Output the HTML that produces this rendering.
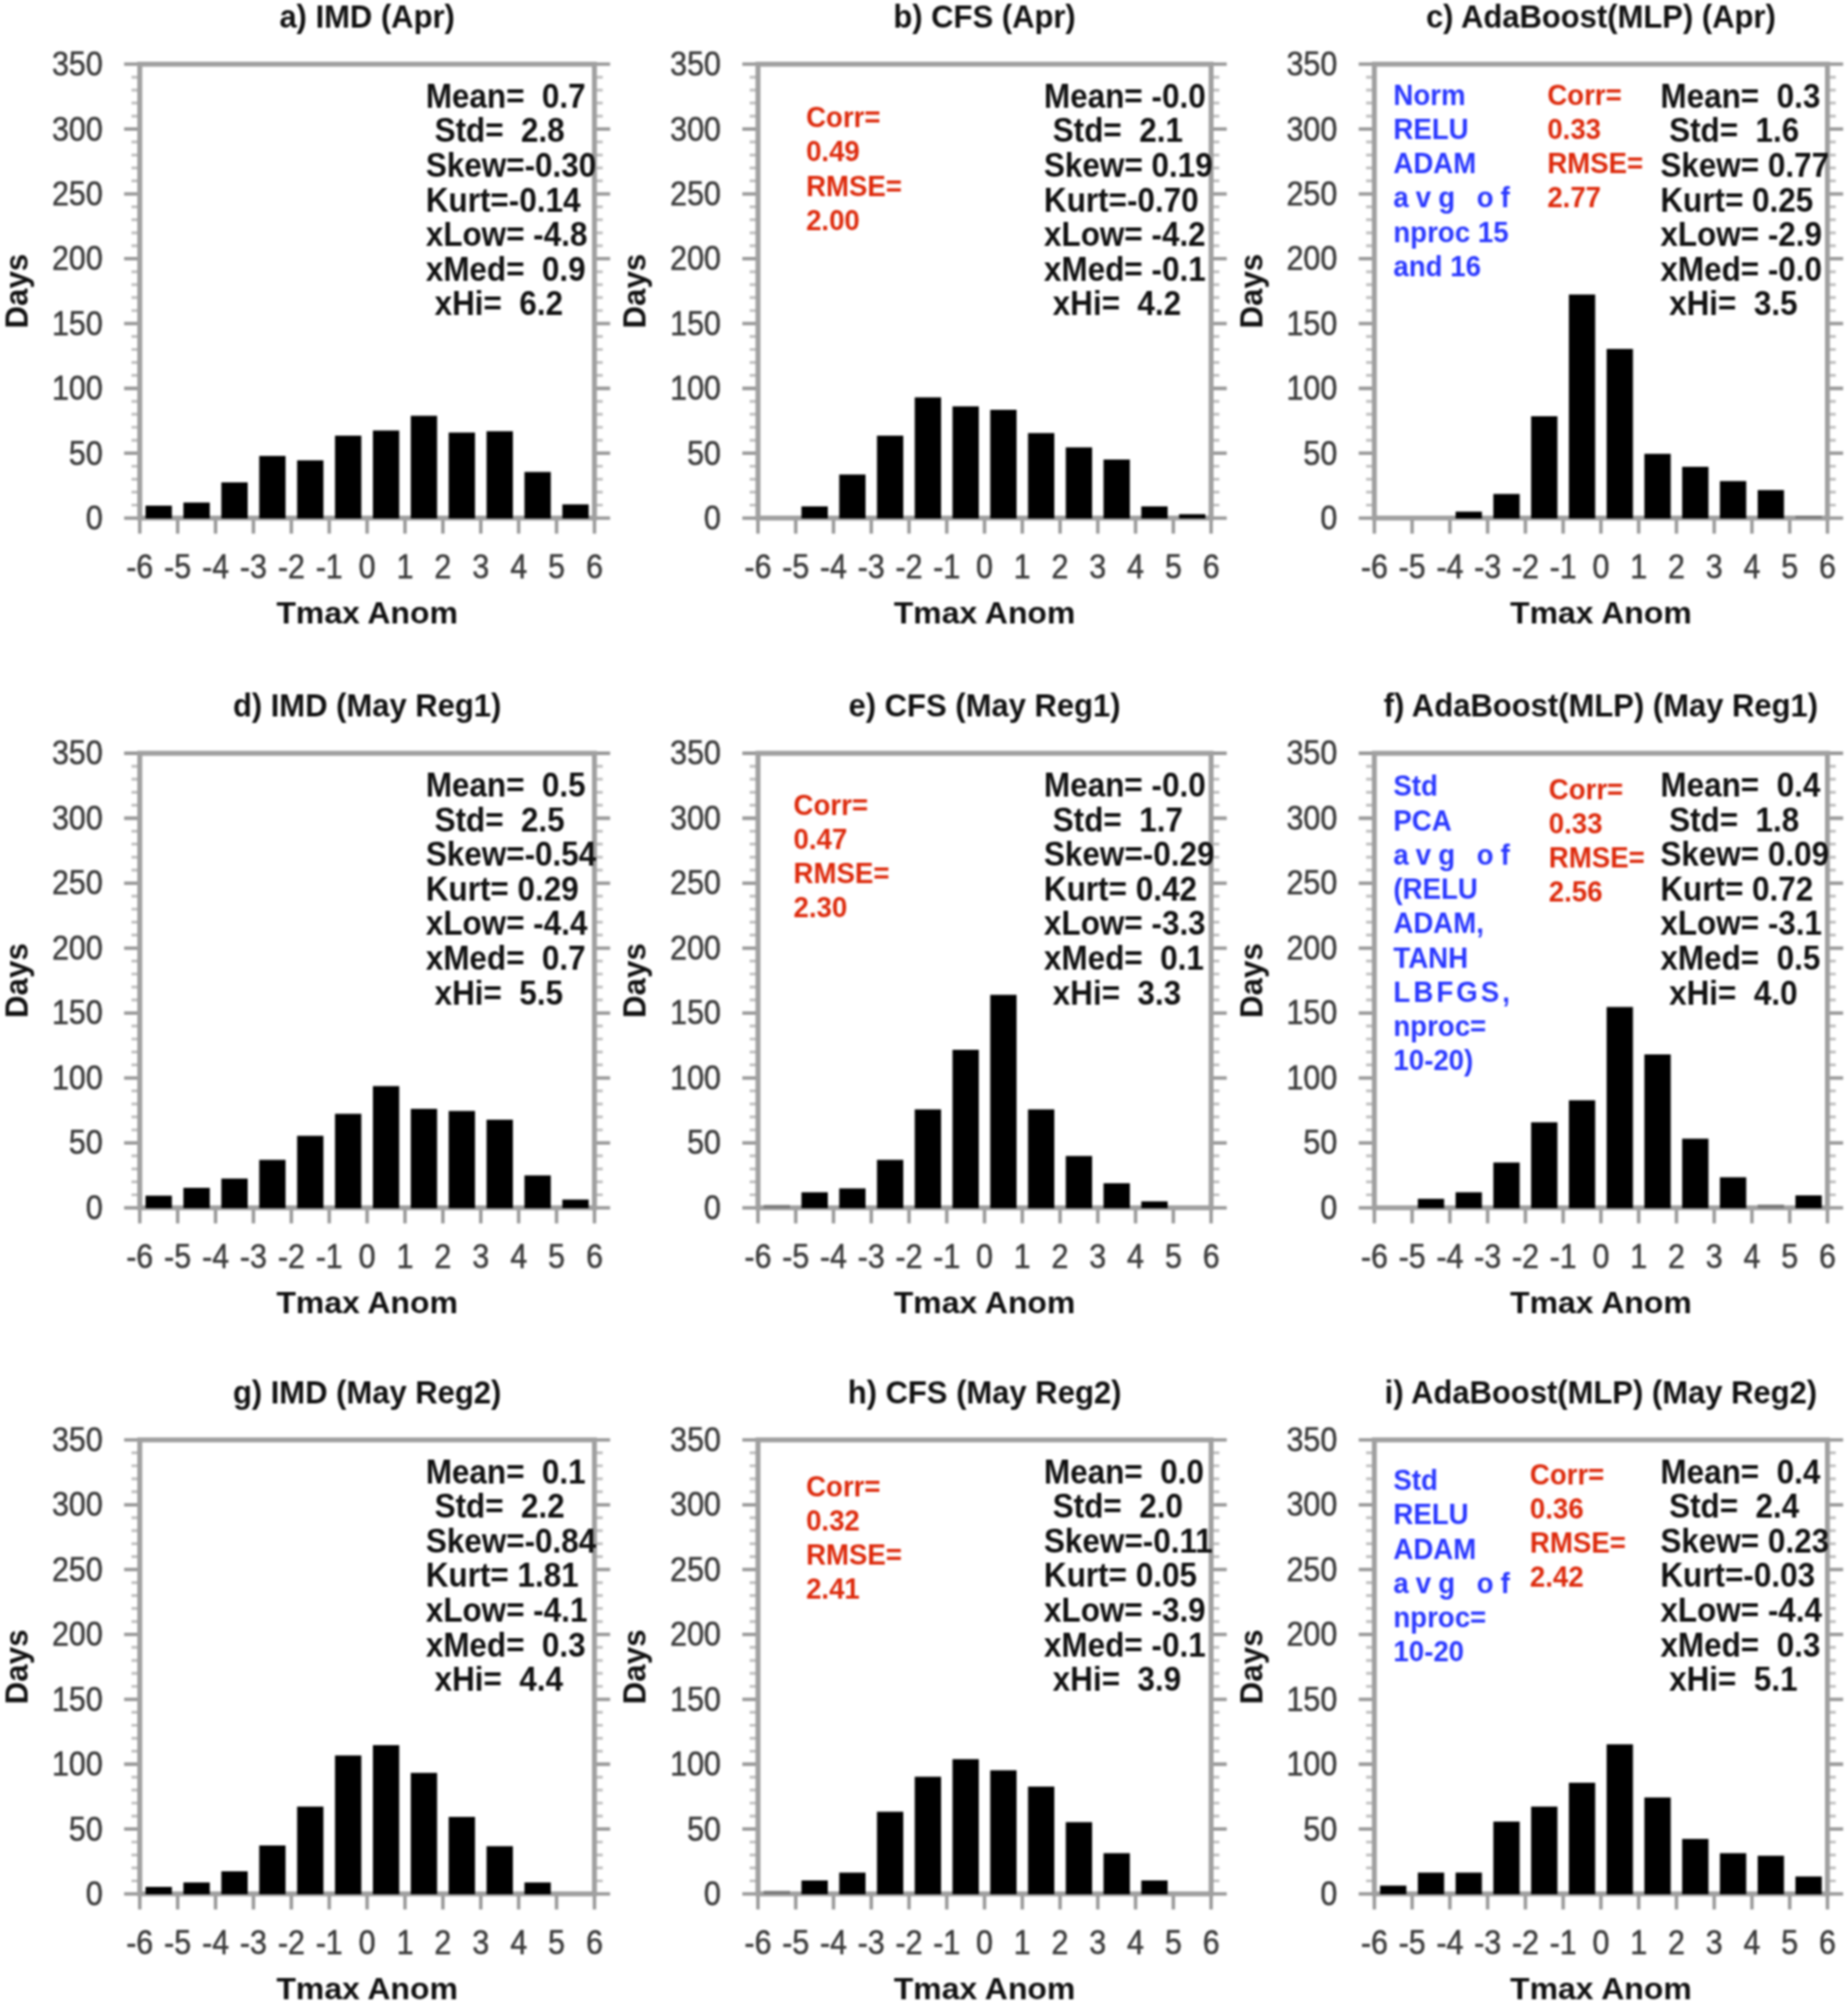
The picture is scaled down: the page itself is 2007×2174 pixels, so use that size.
<!DOCTYPE html>
<html lang="en">
<head>
<meta charset="utf-8">
<title>Tmax anomaly histograms</title>
<style>
html,body{margin:0;padding:0;background:#fff;}
body{width:2007px;height:2174px;overflow:hidden;}
svg{display:block;filter:blur(1.05px);}
text{font-family:"Liberation Sans",Arial,Helvetica,sans-serif;white-space:pre;}
.tk text{font-size:34px;fill:#3a3a3a;stroke:#444;stroke-width:0.55px;}
.b{font-size:34px;font-weight:bold;fill:#111;}
.st text{font-size:33.5px;font-weight:bold;fill:#111;}
.nt text{font-size:30px;font-weight:bold;}
</style>
</head>
<body>
<svg width="2007" height="2174" viewBox="0 0 2007 2174">
<rect width="2007" height="2174" fill="#fff"/>

<g>
<path d="M142.8 548.52h9M645.6 548.52h9M142.8 534.43h9M645.6 534.43h9M142.8 520.35h9M645.6 520.35h9M142.8 506.27h9M645.6 506.27h9M142.8 478.1h9M645.6 478.1h9M142.8 464.02h9M645.6 464.02h9M142.8 449.94h9M645.6 449.94h9M142.8 435.85h9M645.6 435.85h9M142.8 407.69h9M645.6 407.69h9M142.8 393.61h9M645.6 393.61h9M142.8 379.52h9M645.6 379.52h9M142.8 365.44h9M645.6 365.44h9M142.8 337.27h9M645.6 337.27h9M142.8 323.19h9M645.6 323.19h9M142.8 309.11h9M645.6 309.11h9M142.8 295.03h9M645.6 295.03h9M142.8 266.86h9M645.6 266.86h9M142.8 252.78h9M645.6 252.78h9M142.8 238.69h9M645.6 238.69h9M142.8 224.61h9M645.6 224.61h9M142.8 196.45h9M645.6 196.45h9M142.8 182.36h9M645.6 182.36h9M142.8 168.28h9M645.6 168.28h9M142.8 154.2h9M645.6 154.2h9M142.8 126.03h9M645.6 126.03h9M142.8 111.95h9M645.6 111.95h9M142.8 97.87h9M645.6 97.87h9M142.8 83.78h9M645.6 83.78h9" stroke="#c2c2c2" stroke-width="3.2" fill="none"/>
<path d="M134.8 562.6h17M645.6 562.6h17M134.8 492.19h17M645.6 492.19h17M134.8 421.77h17M645.6 421.77h17M134.8 351.36h17M645.6 351.36h17M134.8 280.94h17M645.6 280.94h17M134.8 210.53h17M645.6 210.53h17M134.8 140.11h17M645.6 140.11h17M134.8 69.7h17M645.6 69.7h17M151.8 562.6v17M192.95 562.6v17M234.1 562.6v17M275.25 562.6v17M316.4 562.6v17M357.55 562.6v17M398.7 562.6v17M439.85 562.6v17M481 562.6v17M522.15 562.6v17M563.3 562.6v17M604.45 562.6v17M645.6 562.6v17" stroke="#9a9a9a" stroke-width="3.8" fill="none"/>
<rect x="151.8" y="69.7" width="493.8" height="492.9" fill="none" stroke="#a0a0a0" stroke-width="5.4"/>
<g fill="#000"><rect x="158.07" y="549.1" width="28.6" height="13.9"/><rect x="199.22" y="545.7" width="28.6" height="17.3"/><rect x="240.38" y="523.8" width="28.6" height="39.2"/><rect x="281.53" y="495.1" width="28.6" height="67.9"/><rect x="322.68" y="499.9" width="28.6" height="63.1"/><rect x="363.82" y="473.1" width="28.6" height="89.9"/><rect x="404.98" y="467.5" width="28.6" height="95.5"/><rect x="446.12" y="451.5" width="28.6" height="111.5"/><rect x="487.28" y="469.7" width="28.6" height="93.3"/><rect x="528.43" y="468.3" width="28.6" height="94.7"/><rect x="569.58" y="512.5" width="28.6" height="50.5"/><rect x="610.73" y="547.7" width="28.6" height="15.3"/></g>
<g class="tk" text-anchor="end"><text transform="translate(111.5 575) scale(0.97 1.1)">0</text><text transform="translate(111.5 504.59) scale(0.97 1.1)">50</text><text transform="translate(111.5 434.17) scale(0.97 1.1)">100</text><text transform="translate(111.5 363.76) scale(0.97 1.1)">150</text><text transform="translate(111.5 293.34) scale(0.97 1.1)">200</text><text transform="translate(111.5 222.93) scale(0.97 1.1)">250</text><text transform="translate(111.5 152.51) scale(0.97 1.1)">300</text><text transform="translate(111.5 82.1) scale(0.97 1.1)">350</text></g>
<g class="tk" text-anchor="middle"><text transform="translate(151.8 627.8) scale(0.97 1.1)">-6</text><text transform="translate(192.95 627.8) scale(0.97 1.1)">-5</text><text transform="translate(234.1 627.8) scale(0.97 1.1)">-4</text><text transform="translate(275.25 627.8) scale(0.97 1.1)">-3</text><text transform="translate(316.4 627.8) scale(0.97 1.1)">-2</text><text transform="translate(357.55 627.8) scale(0.97 1.1)">-1</text><text transform="translate(398.7 627.8) scale(0.97 1.1)">0</text><text transform="translate(439.85 627.8) scale(0.97 1.1)">1</text><text transform="translate(481 627.8) scale(0.97 1.1)">2</text><text transform="translate(522.15 627.8) scale(0.97 1.1)">3</text><text transform="translate(563.3 627.8) scale(0.97 1.1)">4</text><text transform="translate(604.45 627.8) scale(0.97 1.1)">5</text><text transform="translate(645.6 627.8) scale(0.97 1.1)">6</text></g>
<text transform="translate(398.7 29.8) scale(0.99 1.02)" class="b" text-anchor="middle">a) IMD (Apr)</text>
<text transform="translate(398.7 677.3) scale(1.02 1)" class="b" text-anchor="middle">Tmax Anom</text>
<text class="b" text-anchor="middle" transform="translate(29.9 316.15) rotate(-90) scale(1 1.05)">Days</text>
<g class="st"><text transform="translate(462.4 116.7) scale(1.02 1.1)">Mean=  0.7</text><text transform="translate(462.4 154.3) scale(1.02 1.1)"> Std=  2.8</text><text transform="translate(462.4 191.9) scale(1.02 1.1)">Skew=-0.30</text><text transform="translate(462.4 229.5) scale(1.02 1.1)">Kurt=-0.14</text><text transform="translate(462.4 267.1) scale(1.02 1.1)">xLow= -4.8</text><text transform="translate(462.4 304.7) scale(1.02 1.1)">xMed=  0.9</text><text transform="translate(462.4 342.3) scale(1.02 1.1)"> xHi=  6.2</text></g>
</g>
<g>
<path d="M814.2 548.52h9M1315.3 548.52h9M814.2 534.43h9M1315.3 534.43h9M814.2 520.35h9M1315.3 520.35h9M814.2 506.27h9M1315.3 506.27h9M814.2 478.1h9M1315.3 478.1h9M814.2 464.02h9M1315.3 464.02h9M814.2 449.94h9M1315.3 449.94h9M814.2 435.85h9M1315.3 435.85h9M814.2 407.69h9M1315.3 407.69h9M814.2 393.61h9M1315.3 393.61h9M814.2 379.52h9M1315.3 379.52h9M814.2 365.44h9M1315.3 365.44h9M814.2 337.27h9M1315.3 337.27h9M814.2 323.19h9M1315.3 323.19h9M814.2 309.11h9M1315.3 309.11h9M814.2 295.03h9M1315.3 295.03h9M814.2 266.86h9M1315.3 266.86h9M814.2 252.78h9M1315.3 252.78h9M814.2 238.69h9M1315.3 238.69h9M814.2 224.61h9M1315.3 224.61h9M814.2 196.45h9M1315.3 196.45h9M814.2 182.36h9M1315.3 182.36h9M814.2 168.28h9M1315.3 168.28h9M814.2 154.2h9M1315.3 154.2h9M814.2 126.03h9M1315.3 126.03h9M814.2 111.95h9M1315.3 111.95h9M814.2 97.87h9M1315.3 97.87h9M814.2 83.78h9M1315.3 83.78h9" stroke="#c2c2c2" stroke-width="3.2" fill="none"/>
<path d="M806.2 562.6h17M1315.3 562.6h17M806.2 492.19h17M1315.3 492.19h17M806.2 421.77h17M1315.3 421.77h17M806.2 351.36h17M1315.3 351.36h17M806.2 280.94h17M1315.3 280.94h17M806.2 210.53h17M1315.3 210.53h17M806.2 140.11h17M1315.3 140.11h17M806.2 69.7h17M1315.3 69.7h17M823.2 562.6v17M864.21 562.6v17M905.22 562.6v17M946.23 562.6v17M987.23 562.6v17M1028.24 562.6v17M1069.25 562.6v17M1110.26 562.6v17M1151.27 562.6v17M1192.28 562.6v17M1233.28 562.6v17M1274.29 562.6v17M1315.3 562.6v17" stroke="#9a9a9a" stroke-width="3.8" fill="none"/>
<rect x="823.2" y="69.7" width="492.1" height="492.9" fill="none" stroke="#a0a0a0" stroke-width="5.4"/>
<g fill="#000"><rect x="870.41" y="549.9" width="28.6" height="13.1"/><rect x="911.42" y="515.3" width="28.6" height="47.7"/><rect x="952.43" y="473.1" width="28.6" height="89.9"/><rect x="993.44" y="431.5" width="28.6" height="131.5"/><rect x="1034.45" y="441.3" width="28.6" height="121.7"/><rect x="1075.45" y="445" width="28.6" height="118"/><rect x="1116.46" y="470.3" width="28.6" height="92.7"/><rect x="1157.47" y="485.8" width="28.6" height="77.2"/><rect x="1198.48" y="499" width="28.6" height="64"/><rect x="1239.49" y="549.9" width="28.6" height="13.1"/><rect x="1280.5" y="558.4" width="28.6" height="4.6"/></g>
<g class="tk" text-anchor="end"><text transform="translate(782.9 575) scale(0.97 1.1)">0</text><text transform="translate(782.9 504.59) scale(0.97 1.1)">50</text><text transform="translate(782.9 434.17) scale(0.97 1.1)">100</text><text transform="translate(782.9 363.76) scale(0.97 1.1)">150</text><text transform="translate(782.9 293.34) scale(0.97 1.1)">200</text><text transform="translate(782.9 222.93) scale(0.97 1.1)">250</text><text transform="translate(782.9 152.51) scale(0.97 1.1)">300</text><text transform="translate(782.9 82.1) scale(0.97 1.1)">350</text></g>
<g class="tk" text-anchor="middle"><text transform="translate(823.2 627.8) scale(0.97 1.1)">-6</text><text transform="translate(864.21 627.8) scale(0.97 1.1)">-5</text><text transform="translate(905.22 627.8) scale(0.97 1.1)">-4</text><text transform="translate(946.23 627.8) scale(0.97 1.1)">-3</text><text transform="translate(987.23 627.8) scale(0.97 1.1)">-2</text><text transform="translate(1028.24 627.8) scale(0.97 1.1)">-1</text><text transform="translate(1069.25 627.8) scale(0.97 1.1)">0</text><text transform="translate(1110.26 627.8) scale(0.97 1.1)">1</text><text transform="translate(1151.27 627.8) scale(0.97 1.1)">2</text><text transform="translate(1192.28 627.8) scale(0.97 1.1)">3</text><text transform="translate(1233.28 627.8) scale(0.97 1.1)">4</text><text transform="translate(1274.29 627.8) scale(0.97 1.1)">5</text><text transform="translate(1315.3 627.8) scale(0.97 1.1)">6</text></g>
<text transform="translate(1069.25 29.8) scale(0.99 1.02)" class="b" text-anchor="middle">b) CFS (Apr)</text>
<text transform="translate(1069.25 677.3) scale(1.02 1)" class="b" text-anchor="middle">Tmax Anom</text>
<text class="b" text-anchor="middle" transform="translate(701.3 316.15) rotate(-90) scale(1 1.05)">Days</text>
<g class="st"><text transform="translate(1133.8 116.7) scale(1.02 1.1)">Mean= -0.0</text><text transform="translate(1133.8 154.3) scale(1.02 1.1)"> Std=  2.1</text><text transform="translate(1133.8 191.9) scale(1.02 1.1)">Skew= 0.19</text><text transform="translate(1133.8 229.5) scale(1.02 1.1)">Kurt=-0.70</text><text transform="translate(1133.8 267.1) scale(1.02 1.1)">xLow= -4.2</text><text transform="translate(1133.8 304.7) scale(1.02 1.1)">xMed= -0.1</text><text transform="translate(1133.8 342.3) scale(1.02 1.1)"> xHi=  4.2</text></g>
<g class="nt" fill="#dd2a0c"><text transform="translate(875.4 138) scale(1 1.06)">Corr=</text><text transform="translate(875.4 175.25) scale(1 1.06)">0.49</text><text transform="translate(875.4 212.5) scale(1 1.06)">RMSE=</text><text transform="translate(875.4 249.75) scale(1 1.06)">2.00</text></g>
</g>
<g>
<path d="M1483.6 548.52h9M1984.7 548.52h9M1483.6 534.43h9M1984.7 534.43h9M1483.6 520.35h9M1984.7 520.35h9M1483.6 506.27h9M1984.7 506.27h9M1483.6 478.1h9M1984.7 478.1h9M1483.6 464.02h9M1984.7 464.02h9M1483.6 449.94h9M1984.7 449.94h9M1483.6 435.85h9M1984.7 435.85h9M1483.6 407.69h9M1984.7 407.69h9M1483.6 393.61h9M1984.7 393.61h9M1483.6 379.52h9M1984.7 379.52h9M1483.6 365.44h9M1984.7 365.44h9M1483.6 337.27h9M1984.7 337.27h9M1483.6 323.19h9M1984.7 323.19h9M1483.6 309.11h9M1984.7 309.11h9M1483.6 295.03h9M1984.7 295.03h9M1483.6 266.86h9M1984.7 266.86h9M1483.6 252.78h9M1984.7 252.78h9M1483.6 238.69h9M1984.7 238.69h9M1483.6 224.61h9M1984.7 224.61h9M1483.6 196.45h9M1984.7 196.45h9M1483.6 182.36h9M1984.7 182.36h9M1483.6 168.28h9M1984.7 168.28h9M1483.6 154.2h9M1984.7 154.2h9M1483.6 126.03h9M1984.7 126.03h9M1483.6 111.95h9M1984.7 111.95h9M1483.6 97.87h9M1984.7 97.87h9M1483.6 83.78h9M1984.7 83.78h9" stroke="#c2c2c2" stroke-width="3.2" fill="none"/>
<path d="M1475.6 562.6h17M1984.7 562.6h17M1475.6 492.19h17M1984.7 492.19h17M1475.6 421.77h17M1984.7 421.77h17M1475.6 351.36h17M1984.7 351.36h17M1475.6 280.94h17M1984.7 280.94h17M1475.6 210.53h17M1984.7 210.53h17M1475.6 140.11h17M1984.7 140.11h17M1475.6 69.7h17M1984.7 69.7h17M1492.6 562.6v17M1533.61 562.6v17M1574.62 562.6v17M1615.62 562.6v17M1656.63 562.6v17M1697.64 562.6v17M1738.65 562.6v17M1779.66 562.6v17M1820.67 562.6v17M1861.67 562.6v17M1902.68 562.6v17M1943.69 562.6v17M1984.7 562.6v17" stroke="#9a9a9a" stroke-width="3.8" fill="none"/>
<rect x="1492.6" y="69.7" width="492.1" height="492.9" fill="none" stroke="#a0a0a0" stroke-width="5.4"/>
<g fill="#000"><rect x="1580.82" y="555.6" width="28.6" height="7.4"/><rect x="1621.83" y="536.4" width="28.6" height="26.6"/><rect x="1662.84" y="452" width="28.6" height="111"/><rect x="1703.85" y="319.8" width="28.6" height="243.2"/><rect x="1744.85" y="378.9" width="28.6" height="184.1"/><rect x="1785.86" y="492.8" width="28.6" height="70.2"/><rect x="1826.87" y="506.9" width="28.6" height="56.1"/><rect x="1867.88" y="522.4" width="28.6" height="40.6"/><rect x="1908.89" y="532.2" width="28.6" height="30.8"/><rect x="1949.9" y="560" width="28.6" height="3" fill="#777"/></g>
<g class="tk" text-anchor="end"><text transform="translate(1452.3 575) scale(0.97 1.1)">0</text><text transform="translate(1452.3 504.59) scale(0.97 1.1)">50</text><text transform="translate(1452.3 434.17) scale(0.97 1.1)">100</text><text transform="translate(1452.3 363.76) scale(0.97 1.1)">150</text><text transform="translate(1452.3 293.34) scale(0.97 1.1)">200</text><text transform="translate(1452.3 222.93) scale(0.97 1.1)">250</text><text transform="translate(1452.3 152.51) scale(0.97 1.1)">300</text><text transform="translate(1452.3 82.1) scale(0.97 1.1)">350</text></g>
<g class="tk" text-anchor="middle"><text transform="translate(1492.6 627.8) scale(0.97 1.1)">-6</text><text transform="translate(1533.61 627.8) scale(0.97 1.1)">-5</text><text transform="translate(1574.62 627.8) scale(0.97 1.1)">-4</text><text transform="translate(1615.62 627.8) scale(0.97 1.1)">-3</text><text transform="translate(1656.63 627.8) scale(0.97 1.1)">-2</text><text transform="translate(1697.64 627.8) scale(0.97 1.1)">-1</text><text transform="translate(1738.65 627.8) scale(0.97 1.1)">0</text><text transform="translate(1779.66 627.8) scale(0.97 1.1)">1</text><text transform="translate(1820.67 627.8) scale(0.97 1.1)">2</text><text transform="translate(1861.67 627.8) scale(0.97 1.1)">3</text><text transform="translate(1902.68 627.8) scale(0.97 1.1)">4</text><text transform="translate(1943.69 627.8) scale(0.97 1.1)">5</text><text transform="translate(1984.7 627.8) scale(0.97 1.1)">6</text></g>
<text transform="translate(1738.65 29.8) scale(0.99 1.02)" class="b" text-anchor="middle">c) AdaBoost(MLP) (Apr)</text>
<text transform="translate(1738.65 677.3) scale(1.02 1)" class="b" text-anchor="middle">Tmax Anom</text>
<text class="b" text-anchor="middle" transform="translate(1370.7 316.15) rotate(-90) scale(1 1.05)">Days</text>
<g class="st"><text transform="translate(1803.2 116.7) scale(1.02 1.1)">Mean=  0.3</text><text transform="translate(1803.2 154.3) scale(1.02 1.1)"> Std=  1.6</text><text transform="translate(1803.2 191.9) scale(1.02 1.1)">Skew= 0.77</text><text transform="translate(1803.2 229.5) scale(1.02 1.1)">Kurt= 0.25</text><text transform="translate(1803.2 267.1) scale(1.02 1.1)">xLow= -2.9</text><text transform="translate(1803.2 304.7) scale(1.02 1.1)">xMed= -0.0</text><text transform="translate(1803.2 342.3) scale(1.02 1.1)"> xHi=  3.5</text></g>
<g class="nt" fill="#dd2a0c"><text transform="translate(1680.4 113.6) scale(1 1.06)">Corr=</text><text transform="translate(1680.4 150.85) scale(1 1.06)">0.33</text><text transform="translate(1680.4 188.1) scale(1 1.06)">RMSE=</text><text transform="translate(1680.4 225.35) scale(1 1.06)">2.77</text></g>
<g class="nt" fill="#2a38ff"><text transform="translate(1513.3 113.6) scale(1 1.06)">Norm</text><text transform="translate(1513.3 150.85) scale(1 1.06)">RELU</text><text transform="translate(1513.3 188.1) scale(1 1.06)">ADAM</text><text transform="translate(1513.3 225.35) scale(1 1.06)" textLength="126.5" lengthAdjust="spacing">avg of</text><text transform="translate(1513.3 262.6) scale(1 1.06)">nproc 15</text><text transform="translate(1513.3 299.85) scale(1 1.06)">and 16</text></g>
</g>
<g>
<path d="M142.8 1297.5h9M645.6 1297.5h9M142.8 1283.39h9M645.6 1283.39h9M142.8 1269.29h9M645.6 1269.29h9M142.8 1255.19h9M645.6 1255.19h9M142.8 1226.98h9M645.6 1226.98h9M142.8 1212.88h9M645.6 1212.88h9M142.8 1198.78h9M645.6 1198.78h9M142.8 1184.67h9M645.6 1184.67h9M142.8 1156.47h9M645.6 1156.47h9M142.8 1142.37h9M645.6 1142.37h9M142.8 1128.26h9M645.6 1128.26h9M142.8 1114.16h9M645.6 1114.16h9M142.8 1085.95h9M645.6 1085.95h9M142.8 1071.85h9M645.6 1071.85h9M142.8 1057.75h9M645.6 1057.75h9M142.8 1043.65h9M645.6 1043.65h9M142.8 1015.44h9M645.6 1015.44h9M142.8 1001.34h9M645.6 1001.34h9M142.8 987.23h9M645.6 987.23h9M142.8 973.13h9M645.6 973.13h9M142.8 944.93h9M645.6 944.93h9M142.8 930.82h9M645.6 930.82h9M142.8 916.72h9M645.6 916.72h9M142.8 902.62h9M645.6 902.62h9M142.8 874.41h9M645.6 874.41h9M142.8 860.31h9M645.6 860.31h9M142.8 846.21h9M645.6 846.21h9M142.8 832.1h9M645.6 832.1h9" stroke="#c2c2c2" stroke-width="3.2" fill="none"/>
<path d="M134.8 1311.6h17M645.6 1311.6h17M134.8 1241.09h17M645.6 1241.09h17M134.8 1170.57h17M645.6 1170.57h17M134.8 1100.06h17M645.6 1100.06h17M134.8 1029.54h17M645.6 1029.54h17M134.8 959.03h17M645.6 959.03h17M134.8 888.51h17M645.6 888.51h17M134.8 818h17M645.6 818h17M151.8 1311.6v17M192.95 1311.6v17M234.1 1311.6v17M275.25 1311.6v17M316.4 1311.6v17M357.55 1311.6v17M398.7 1311.6v17M439.85 1311.6v17M481 1311.6v17M522.15 1311.6v17M563.3 1311.6v17M604.45 1311.6v17M645.6 1311.6v17" stroke="#9a9a9a" stroke-width="3.8" fill="none"/>
<rect x="151.8" y="818" width="493.8" height="493.6" fill="none" stroke="#a0a0a0" stroke-width="5.4"/>
<g fill="#000"><rect x="158.07" y="1298.4" width="28.6" height="13.6"/><rect x="199.22" y="1289.9" width="28.6" height="22.1"/><rect x="240.38" y="1279.8" width="28.6" height="32.2"/><rect x="281.53" y="1259.5" width="28.6" height="52.5"/><rect x="322.68" y="1233.4" width="28.6" height="78.6"/><rect x="363.82" y="1209.5" width="28.6" height="102.5"/><rect x="404.98" y="1179.4" width="28.6" height="132.6"/><rect x="446.12" y="1204.1" width="28.6" height="107.9"/><rect x="487.28" y="1206.4" width="28.6" height="105.6"/><rect x="528.43" y="1215.9" width="28.6" height="96.1"/><rect x="569.58" y="1276.4" width="28.6" height="35.6"/><rect x="610.73" y="1302.6" width="28.6" height="9.4"/></g>
<g class="tk" text-anchor="end"><text transform="translate(111.5 1324) scale(0.97 1.1)">0</text><text transform="translate(111.5 1253.49) scale(0.97 1.1)">50</text><text transform="translate(111.5 1182.97) scale(0.97 1.1)">100</text><text transform="translate(111.5 1112.46) scale(0.97 1.1)">150</text><text transform="translate(111.5 1041.94) scale(0.97 1.1)">200</text><text transform="translate(111.5 971.43) scale(0.97 1.1)">250</text><text transform="translate(111.5 900.91) scale(0.97 1.1)">300</text><text transform="translate(111.5 830.4) scale(0.97 1.1)">350</text></g>
<g class="tk" text-anchor="middle"><text transform="translate(151.8 1376.8) scale(0.97 1.1)">-6</text><text transform="translate(192.95 1376.8) scale(0.97 1.1)">-5</text><text transform="translate(234.1 1376.8) scale(0.97 1.1)">-4</text><text transform="translate(275.25 1376.8) scale(0.97 1.1)">-3</text><text transform="translate(316.4 1376.8) scale(0.97 1.1)">-2</text><text transform="translate(357.55 1376.8) scale(0.97 1.1)">-1</text><text transform="translate(398.7 1376.8) scale(0.97 1.1)">0</text><text transform="translate(439.85 1376.8) scale(0.97 1.1)">1</text><text transform="translate(481 1376.8) scale(0.97 1.1)">2</text><text transform="translate(522.15 1376.8) scale(0.97 1.1)">3</text><text transform="translate(563.3 1376.8) scale(0.97 1.1)">4</text><text transform="translate(604.45 1376.8) scale(0.97 1.1)">5</text><text transform="translate(645.6 1376.8) scale(0.97 1.1)">6</text></g>
<text transform="translate(398.7 778.1) scale(0.99 1.02)" class="b" text-anchor="middle">d) IMD (May Reg1)</text>
<text transform="translate(398.7 1426.3) scale(1.02 1)" class="b" text-anchor="middle">Tmax Anom</text>
<text class="b" text-anchor="middle" transform="translate(29.9 1064.8) rotate(-90) scale(1 1.05)">Days</text>
<g class="st"><text transform="translate(462.4 865) scale(1.02 1.1)">Mean=  0.5</text><text transform="translate(462.4 902.6) scale(1.02 1.1)"> Std=  2.5</text><text transform="translate(462.4 940.2) scale(1.02 1.1)">Skew=-0.54</text><text transform="translate(462.4 977.8) scale(1.02 1.1)">Kurt= 0.29</text><text transform="translate(462.4 1015.4) scale(1.02 1.1)">xLow= -4.4</text><text transform="translate(462.4 1053) scale(1.02 1.1)">xMed=  0.7</text><text transform="translate(462.4 1090.6) scale(1.02 1.1)"> xHi=  5.5</text></g>
</g>
<g>
<path d="M814.2 1297.5h9M1315.3 1297.5h9M814.2 1283.39h9M1315.3 1283.39h9M814.2 1269.29h9M1315.3 1269.29h9M814.2 1255.19h9M1315.3 1255.19h9M814.2 1226.98h9M1315.3 1226.98h9M814.2 1212.88h9M1315.3 1212.88h9M814.2 1198.78h9M1315.3 1198.78h9M814.2 1184.67h9M1315.3 1184.67h9M814.2 1156.47h9M1315.3 1156.47h9M814.2 1142.37h9M1315.3 1142.37h9M814.2 1128.26h9M1315.3 1128.26h9M814.2 1114.16h9M1315.3 1114.16h9M814.2 1085.95h9M1315.3 1085.95h9M814.2 1071.85h9M1315.3 1071.85h9M814.2 1057.75h9M1315.3 1057.75h9M814.2 1043.65h9M1315.3 1043.65h9M814.2 1015.44h9M1315.3 1015.44h9M814.2 1001.34h9M1315.3 1001.34h9M814.2 987.23h9M1315.3 987.23h9M814.2 973.13h9M1315.3 973.13h9M814.2 944.93h9M1315.3 944.93h9M814.2 930.82h9M1315.3 930.82h9M814.2 916.72h9M1315.3 916.72h9M814.2 902.62h9M1315.3 902.62h9M814.2 874.41h9M1315.3 874.41h9M814.2 860.31h9M1315.3 860.31h9M814.2 846.21h9M1315.3 846.21h9M814.2 832.1h9M1315.3 832.1h9" stroke="#c2c2c2" stroke-width="3.2" fill="none"/>
<path d="M806.2 1311.6h17M1315.3 1311.6h17M806.2 1241.09h17M1315.3 1241.09h17M806.2 1170.57h17M1315.3 1170.57h17M806.2 1100.06h17M1315.3 1100.06h17M806.2 1029.54h17M1315.3 1029.54h17M806.2 959.03h17M1315.3 959.03h17M806.2 888.51h17M1315.3 888.51h17M806.2 818h17M1315.3 818h17M823.2 1311.6v17M864.21 1311.6v17M905.22 1311.6v17M946.23 1311.6v17M987.23 1311.6v17M1028.24 1311.6v17M1069.25 1311.6v17M1110.26 1311.6v17M1151.27 1311.6v17M1192.28 1311.6v17M1233.28 1311.6v17M1274.29 1311.6v17M1315.3 1311.6v17" stroke="#9a9a9a" stroke-width="3.8" fill="none"/>
<rect x="823.2" y="818" width="492.1" height="493.6" fill="none" stroke="#a0a0a0" stroke-width="5.4"/>
<g fill="#000"><rect x="829.4" y="1308.6" width="28.6" height="3.4" fill="#777"/><rect x="870.41" y="1294.7" width="28.6" height="17.3"/><rect x="911.42" y="1290.5" width="28.6" height="21.5"/><rect x="952.43" y="1259.5" width="28.6" height="52.5"/><rect x="993.44" y="1204.7" width="28.6" height="107.3"/><rect x="1034.45" y="1140" width="28.6" height="172"/><rect x="1075.45" y="1080.3" width="28.6" height="231.7"/><rect x="1116.46" y="1204.7" width="28.6" height="107.3"/><rect x="1157.47" y="1255.3" width="28.6" height="56.7"/><rect x="1198.48" y="1284.9" width="28.6" height="27.1"/><rect x="1239.49" y="1304.6" width="28.6" height="7.4"/></g>
<g class="tk" text-anchor="end"><text transform="translate(782.9 1324) scale(0.97 1.1)">0</text><text transform="translate(782.9 1253.49) scale(0.97 1.1)">50</text><text transform="translate(782.9 1182.97) scale(0.97 1.1)">100</text><text transform="translate(782.9 1112.46) scale(0.97 1.1)">150</text><text transform="translate(782.9 1041.94) scale(0.97 1.1)">200</text><text transform="translate(782.9 971.43) scale(0.97 1.1)">250</text><text transform="translate(782.9 900.91) scale(0.97 1.1)">300</text><text transform="translate(782.9 830.4) scale(0.97 1.1)">350</text></g>
<g class="tk" text-anchor="middle"><text transform="translate(823.2 1376.8) scale(0.97 1.1)">-6</text><text transform="translate(864.21 1376.8) scale(0.97 1.1)">-5</text><text transform="translate(905.22 1376.8) scale(0.97 1.1)">-4</text><text transform="translate(946.23 1376.8) scale(0.97 1.1)">-3</text><text transform="translate(987.23 1376.8) scale(0.97 1.1)">-2</text><text transform="translate(1028.24 1376.8) scale(0.97 1.1)">-1</text><text transform="translate(1069.25 1376.8) scale(0.97 1.1)">0</text><text transform="translate(1110.26 1376.8) scale(0.97 1.1)">1</text><text transform="translate(1151.27 1376.8) scale(0.97 1.1)">2</text><text transform="translate(1192.28 1376.8) scale(0.97 1.1)">3</text><text transform="translate(1233.28 1376.8) scale(0.97 1.1)">4</text><text transform="translate(1274.29 1376.8) scale(0.97 1.1)">5</text><text transform="translate(1315.3 1376.8) scale(0.97 1.1)">6</text></g>
<text transform="translate(1069.25 778.1) scale(0.99 1.02)" class="b" text-anchor="middle">e) CFS (May Reg1)</text>
<text transform="translate(1069.25 1426.3) scale(1.02 1)" class="b" text-anchor="middle">Tmax Anom</text>
<text class="b" text-anchor="middle" transform="translate(701.3 1064.8) rotate(-90) scale(1 1.05)">Days</text>
<g class="st"><text transform="translate(1133.8 865) scale(1.02 1.1)">Mean= -0.0</text><text transform="translate(1133.8 902.6) scale(1.02 1.1)"> Std=  1.7</text><text transform="translate(1133.8 940.2) scale(1.02 1.1)">Skew=-0.29</text><text transform="translate(1133.8 977.8) scale(1.02 1.1)">Kurt= 0.42</text><text transform="translate(1133.8 1015.4) scale(1.02 1.1)">xLow= -3.3</text><text transform="translate(1133.8 1053) scale(1.02 1.1)">xMed=  0.1</text><text transform="translate(1133.8 1090.6) scale(1.02 1.1)"> xHi=  3.3</text></g>
<g class="nt" fill="#dd2a0c"><text transform="translate(861.8 884.5) scale(1 1.06)">Corr=</text><text transform="translate(861.8 921.75) scale(1 1.06)">0.47</text><text transform="translate(861.8 959) scale(1 1.06)">RMSE=</text><text transform="translate(861.8 996.25) scale(1 1.06)">2.30</text></g>
</g>
<g>
<path d="M1483.6 1297.5h9M1984.7 1297.5h9M1483.6 1283.39h9M1984.7 1283.39h9M1483.6 1269.29h9M1984.7 1269.29h9M1483.6 1255.19h9M1984.7 1255.19h9M1483.6 1226.98h9M1984.7 1226.98h9M1483.6 1212.88h9M1984.7 1212.88h9M1483.6 1198.78h9M1984.7 1198.78h9M1483.6 1184.67h9M1984.7 1184.67h9M1483.6 1156.47h9M1984.7 1156.47h9M1483.6 1142.37h9M1984.7 1142.37h9M1483.6 1128.26h9M1984.7 1128.26h9M1483.6 1114.16h9M1984.7 1114.16h9M1483.6 1085.95h9M1984.7 1085.95h9M1483.6 1071.85h9M1984.7 1071.85h9M1483.6 1057.75h9M1984.7 1057.75h9M1483.6 1043.65h9M1984.7 1043.65h9M1483.6 1015.44h9M1984.7 1015.44h9M1483.6 1001.34h9M1984.7 1001.34h9M1483.6 987.23h9M1984.7 987.23h9M1483.6 973.13h9M1984.7 973.13h9M1483.6 944.93h9M1984.7 944.93h9M1483.6 930.82h9M1984.7 930.82h9M1483.6 916.72h9M1984.7 916.72h9M1483.6 902.62h9M1984.7 902.62h9M1483.6 874.41h9M1984.7 874.41h9M1483.6 860.31h9M1984.7 860.31h9M1483.6 846.21h9M1984.7 846.21h9M1483.6 832.1h9M1984.7 832.1h9" stroke="#c2c2c2" stroke-width="3.2" fill="none"/>
<path d="M1475.6 1311.6h17M1984.7 1311.6h17M1475.6 1241.09h17M1984.7 1241.09h17M1475.6 1170.57h17M1984.7 1170.57h17M1475.6 1100.06h17M1984.7 1100.06h17M1475.6 1029.54h17M1984.7 1029.54h17M1475.6 959.03h17M1984.7 959.03h17M1475.6 888.51h17M1984.7 888.51h17M1475.6 818h17M1984.7 818h17M1492.6 1311.6v17M1533.61 1311.6v17M1574.62 1311.6v17M1615.62 1311.6v17M1656.63 1311.6v17M1697.64 1311.6v17M1738.65 1311.6v17M1779.66 1311.6v17M1820.67 1311.6v17M1861.67 1311.6v17M1902.68 1311.6v17M1943.69 1311.6v17M1984.7 1311.6v17" stroke="#9a9a9a" stroke-width="3.8" fill="none"/>
<rect x="1492.6" y="818" width="492.1" height="493.6" fill="none" stroke="#a0a0a0" stroke-width="5.4"/>
<g fill="#000"><rect x="1539.81" y="1301.8" width="28.6" height="10.2"/><rect x="1580.82" y="1294.7" width="28.6" height="17.3"/><rect x="1621.83" y="1262.4" width="28.6" height="49.6"/><rect x="1662.84" y="1218.7" width="28.6" height="93.3"/><rect x="1703.85" y="1194.8" width="28.6" height="117.2"/><rect x="1744.85" y="1093.5" width="28.6" height="218.5"/><rect x="1785.86" y="1145" width="28.6" height="167"/><rect x="1826.87" y="1236.5" width="28.6" height="75.5"/><rect x="1867.88" y="1278.4" width="28.6" height="33.6"/><rect x="1908.89" y="1308.2" width="28.6" height="3.8" fill="#777"/><rect x="1949.9" y="1298.1" width="28.6" height="13.9"/></g>
<g class="tk" text-anchor="end"><text transform="translate(1452.3 1324) scale(0.97 1.1)">0</text><text transform="translate(1452.3 1253.49) scale(0.97 1.1)">50</text><text transform="translate(1452.3 1182.97) scale(0.97 1.1)">100</text><text transform="translate(1452.3 1112.46) scale(0.97 1.1)">150</text><text transform="translate(1452.3 1041.94) scale(0.97 1.1)">200</text><text transform="translate(1452.3 971.43) scale(0.97 1.1)">250</text><text transform="translate(1452.3 900.91) scale(0.97 1.1)">300</text><text transform="translate(1452.3 830.4) scale(0.97 1.1)">350</text></g>
<g class="tk" text-anchor="middle"><text transform="translate(1492.6 1376.8) scale(0.97 1.1)">-6</text><text transform="translate(1533.61 1376.8) scale(0.97 1.1)">-5</text><text transform="translate(1574.62 1376.8) scale(0.97 1.1)">-4</text><text transform="translate(1615.62 1376.8) scale(0.97 1.1)">-3</text><text transform="translate(1656.63 1376.8) scale(0.97 1.1)">-2</text><text transform="translate(1697.64 1376.8) scale(0.97 1.1)">-1</text><text transform="translate(1738.65 1376.8) scale(0.97 1.1)">0</text><text transform="translate(1779.66 1376.8) scale(0.97 1.1)">1</text><text transform="translate(1820.67 1376.8) scale(0.97 1.1)">2</text><text transform="translate(1861.67 1376.8) scale(0.97 1.1)">3</text><text transform="translate(1902.68 1376.8) scale(0.97 1.1)">4</text><text transform="translate(1943.69 1376.8) scale(0.97 1.1)">5</text><text transform="translate(1984.7 1376.8) scale(0.97 1.1)">6</text></g>
<text transform="translate(1738.65 778.1) scale(0.99 1.02)" class="b" text-anchor="middle">f) AdaBoost(MLP) (May Reg1)</text>
<text transform="translate(1738.65 1426.3) scale(1.02 1)" class="b" text-anchor="middle">Tmax Anom</text>
<text class="b" text-anchor="middle" transform="translate(1370.7 1064.8) rotate(-90) scale(1 1.05)">Days</text>
<g class="st"><text transform="translate(1803.2 865) scale(1.02 1.1)">Mean=  0.4</text><text transform="translate(1803.2 902.6) scale(1.02 1.1)"> Std=  1.8</text><text transform="translate(1803.2 940.2) scale(1.02 1.1)">Skew= 0.09</text><text transform="translate(1803.2 977.8) scale(1.02 1.1)">Kurt= 0.72</text><text transform="translate(1803.2 1015.4) scale(1.02 1.1)">xLow= -3.1</text><text transform="translate(1803.2 1053) scale(1.02 1.1)">xMed=  0.5</text><text transform="translate(1803.2 1090.6) scale(1.02 1.1)"> xHi=  4.0</text></g>
<g class="nt" fill="#dd2a0c"><text transform="translate(1682 867.6) scale(1 1.06)">Corr=</text><text transform="translate(1682 904.85) scale(1 1.06)">0.33</text><text transform="translate(1682 942.1) scale(1 1.06)">RMSE=</text><text transform="translate(1682 979.35) scale(1 1.06)">2.56</text></g>
<g class="nt" fill="#2a38ff"><text transform="translate(1513.3 864.4) scale(1 1.06)">Std</text><text transform="translate(1513.3 901.65) scale(1 1.06)">PCA</text><text transform="translate(1513.3 938.9) scale(1 1.06)" textLength="126.5" lengthAdjust="spacing">avg of</text><text transform="translate(1513.3 976.15) scale(1 1.06)">(RELU</text><text transform="translate(1513.3 1013.4) scale(1 1.06)">ADAM,</text><text transform="translate(1513.3 1050.65) scale(1 1.06)">TANH</text><text transform="translate(1513.3 1087.9) scale(1 1.06)" textLength="126.5" lengthAdjust="spacing">LBFGS,</text><text transform="translate(1513.3 1125.15) scale(1 1.06)">nproc=</text><text transform="translate(1513.3 1162.4) scale(1 1.06)">10-20)</text></g>
</g>
<g>
<path d="M142.8 2042.51h9M645.6 2042.51h9M142.8 2028.43h9M645.6 2028.43h9M142.8 2014.34h9M645.6 2014.34h9M142.8 2000.26h9M645.6 2000.26h9M142.8 1972.09h9M645.6 1972.09h9M142.8 1958h9M645.6 1958h9M142.8 1943.91h9M645.6 1943.91h9M142.8 1929.83h9M645.6 1929.83h9M142.8 1901.66h9M645.6 1901.66h9M142.8 1887.57h9M645.6 1887.57h9M142.8 1873.49h9M645.6 1873.49h9M142.8 1859.4h9M645.6 1859.4h9M142.8 1831.23h9M645.6 1831.23h9M142.8 1817.14h9M645.6 1817.14h9M142.8 1803.06h9M645.6 1803.06h9M142.8 1788.97h9M645.6 1788.97h9M142.8 1760.8h9M645.6 1760.8h9M142.8 1746.71h9M645.6 1746.71h9M142.8 1732.63h9M645.6 1732.63h9M142.8 1718.54h9M645.6 1718.54h9M142.8 1690.37h9M645.6 1690.37h9M142.8 1676.29h9M645.6 1676.29h9M142.8 1662.2h9M645.6 1662.2h9M142.8 1648.11h9M645.6 1648.11h9M142.8 1619.94h9M645.6 1619.94h9M142.8 1605.86h9M645.6 1605.86h9M142.8 1591.77h9M645.6 1591.77h9M142.8 1577.69h9M645.6 1577.69h9" stroke="#c2c2c2" stroke-width="3.2" fill="none"/>
<path d="M134.8 2056.6h17M645.6 2056.6h17M134.8 1986.17h17M645.6 1986.17h17M134.8 1915.74h17M645.6 1915.74h17M134.8 1845.31h17M645.6 1845.31h17M134.8 1774.89h17M645.6 1774.89h17M134.8 1704.46h17M645.6 1704.46h17M134.8 1634.03h17M645.6 1634.03h17M134.8 1563.6h17M645.6 1563.6h17M151.8 2056.6v17M192.95 2056.6v17M234.1 2056.6v17M275.25 2056.6v17M316.4 2056.6v17M357.55 2056.6v17M398.7 2056.6v17M439.85 2056.6v17M481 2056.6v17M522.15 2056.6v17M563.3 2056.6v17M604.45 2056.6v17M645.6 2056.6v17" stroke="#9a9a9a" stroke-width="3.8" fill="none"/>
<rect x="151.8" y="1563.6" width="493.8" height="493" fill="none" stroke="#a0a0a0" stroke-width="5.4"/>
<g fill="#000"><rect x="158.07" y="2049" width="28.6" height="8"/><rect x="199.22" y="2044.2" width="28.6" height="12.8"/><rect x="240.38" y="2032.1" width="28.6" height="24.9"/><rect x="281.53" y="2004" width="28.6" height="53"/><rect x="322.68" y="1961.8" width="28.6" height="95.2"/><rect x="363.82" y="1906.3" width="28.6" height="150.7"/><rect x="404.98" y="1895.1" width="28.6" height="161.9"/><rect x="446.12" y="1925.2" width="28.6" height="131.8"/><rect x="487.28" y="1973" width="28.6" height="84"/><rect x="528.43" y="2004.8" width="28.6" height="52.2"/><rect x="569.58" y="2044.2" width="28.6" height="12.8"/></g>
<g class="tk" text-anchor="end"><text transform="translate(111.5 2069) scale(0.97 1.1)">0</text><text transform="translate(111.5 1998.57) scale(0.97 1.1)">50</text><text transform="translate(111.5 1928.14) scale(0.97 1.1)">100</text><text transform="translate(111.5 1857.71) scale(0.97 1.1)">150</text><text transform="translate(111.5 1787.29) scale(0.97 1.1)">200</text><text transform="translate(111.5 1716.86) scale(0.97 1.1)">250</text><text transform="translate(111.5 1646.43) scale(0.97 1.1)">300</text><text transform="translate(111.5 1576) scale(0.97 1.1)">350</text></g>
<g class="tk" text-anchor="middle"><text transform="translate(151.8 2121.8) scale(0.97 1.1)">-6</text><text transform="translate(192.95 2121.8) scale(0.97 1.1)">-5</text><text transform="translate(234.1 2121.8) scale(0.97 1.1)">-4</text><text transform="translate(275.25 2121.8) scale(0.97 1.1)">-3</text><text transform="translate(316.4 2121.8) scale(0.97 1.1)">-2</text><text transform="translate(357.55 2121.8) scale(0.97 1.1)">-1</text><text transform="translate(398.7 2121.8) scale(0.97 1.1)">0</text><text transform="translate(439.85 2121.8) scale(0.97 1.1)">1</text><text transform="translate(481 2121.8) scale(0.97 1.1)">2</text><text transform="translate(522.15 2121.8) scale(0.97 1.1)">3</text><text transform="translate(563.3 2121.8) scale(0.97 1.1)">4</text><text transform="translate(604.45 2121.8) scale(0.97 1.1)">5</text><text transform="translate(645.6 2121.8) scale(0.97 1.1)">6</text></g>
<text transform="translate(398.7 1523.7) scale(0.99 1.02)" class="b" text-anchor="middle">g) IMD (May Reg2)</text>
<text transform="translate(398.7 2171.3) scale(1.02 1)" class="b" text-anchor="middle">Tmax Anom</text>
<text class="b" text-anchor="middle" transform="translate(29.9 1810.1) rotate(-90) scale(1 1.05)">Days</text>
<g class="st"><text transform="translate(462.4 1610.6) scale(1.02 1.1)">Mean=  0.1</text><text transform="translate(462.4 1648.2) scale(1.02 1.1)"> Std=  2.2</text><text transform="translate(462.4 1685.8) scale(1.02 1.1)">Skew=-0.84</text><text transform="translate(462.4 1723.4) scale(1.02 1.1)">Kurt= 1.81</text><text transform="translate(462.4 1761) scale(1.02 1.1)">xLow= -4.1</text><text transform="translate(462.4 1798.6) scale(1.02 1.1)">xMed=  0.3</text><text transform="translate(462.4 1836.2) scale(1.02 1.1)"> xHi=  4.4</text></g>
</g>
<g>
<path d="M814.2 2042.51h9M1315.3 2042.51h9M814.2 2028.43h9M1315.3 2028.43h9M814.2 2014.34h9M1315.3 2014.34h9M814.2 2000.26h9M1315.3 2000.26h9M814.2 1972.09h9M1315.3 1972.09h9M814.2 1958h9M1315.3 1958h9M814.2 1943.91h9M1315.3 1943.91h9M814.2 1929.83h9M1315.3 1929.83h9M814.2 1901.66h9M1315.3 1901.66h9M814.2 1887.57h9M1315.3 1887.57h9M814.2 1873.49h9M1315.3 1873.49h9M814.2 1859.4h9M1315.3 1859.4h9M814.2 1831.23h9M1315.3 1831.23h9M814.2 1817.14h9M1315.3 1817.14h9M814.2 1803.06h9M1315.3 1803.06h9M814.2 1788.97h9M1315.3 1788.97h9M814.2 1760.8h9M1315.3 1760.8h9M814.2 1746.71h9M1315.3 1746.71h9M814.2 1732.63h9M1315.3 1732.63h9M814.2 1718.54h9M1315.3 1718.54h9M814.2 1690.37h9M1315.3 1690.37h9M814.2 1676.29h9M1315.3 1676.29h9M814.2 1662.2h9M1315.3 1662.2h9M814.2 1648.11h9M1315.3 1648.11h9M814.2 1619.94h9M1315.3 1619.94h9M814.2 1605.86h9M1315.3 1605.86h9M814.2 1591.77h9M1315.3 1591.77h9M814.2 1577.69h9M1315.3 1577.69h9" stroke="#c2c2c2" stroke-width="3.2" fill="none"/>
<path d="M806.2 2056.6h17M1315.3 2056.6h17M806.2 1986.17h17M1315.3 1986.17h17M806.2 1915.74h17M1315.3 1915.74h17M806.2 1845.31h17M1315.3 1845.31h17M806.2 1774.89h17M1315.3 1774.89h17M806.2 1704.46h17M1315.3 1704.46h17M806.2 1634.03h17M1315.3 1634.03h17M806.2 1563.6h17M1315.3 1563.6h17M823.2 2056.6v17M864.21 2056.6v17M905.22 2056.6v17M946.23 2056.6v17M987.23 2056.6v17M1028.24 2056.6v17M1069.25 2056.6v17M1110.26 2056.6v17M1151.27 2056.6v17M1192.28 2056.6v17M1233.28 2056.6v17M1274.29 2056.6v17M1315.3 2056.6v17" stroke="#9a9a9a" stroke-width="3.8" fill="none"/>
<rect x="823.2" y="1563.6" width="492.1" height="493" fill="none" stroke="#a0a0a0" stroke-width="5.4"/>
<g fill="#000"><rect x="829.4" y="2053.4" width="28.6" height="3.6" fill="#777"/><rect x="870.41" y="2042" width="28.6" height="15"/><rect x="911.42" y="2033.5" width="28.6" height="23.5"/><rect x="952.43" y="1967.4" width="28.6" height="89.6"/><rect x="993.44" y="1929.4" width="28.6" height="127.6"/><rect x="1034.45" y="1910.3" width="28.6" height="146.7"/><rect x="1075.45" y="1922.4" width="28.6" height="134.6"/><rect x="1116.46" y="1940.1" width="28.6" height="116.9"/><rect x="1157.47" y="1978.7" width="28.6" height="78.3"/><rect x="1198.48" y="2012.4" width="28.6" height="44.6"/><rect x="1239.49" y="2042" width="28.6" height="15"/></g>
<g class="tk" text-anchor="end"><text transform="translate(782.9 2069) scale(0.97 1.1)">0</text><text transform="translate(782.9 1998.57) scale(0.97 1.1)">50</text><text transform="translate(782.9 1928.14) scale(0.97 1.1)">100</text><text transform="translate(782.9 1857.71) scale(0.97 1.1)">150</text><text transform="translate(782.9 1787.29) scale(0.97 1.1)">200</text><text transform="translate(782.9 1716.86) scale(0.97 1.1)">250</text><text transform="translate(782.9 1646.43) scale(0.97 1.1)">300</text><text transform="translate(782.9 1576) scale(0.97 1.1)">350</text></g>
<g class="tk" text-anchor="middle"><text transform="translate(823.2 2121.8) scale(0.97 1.1)">-6</text><text transform="translate(864.21 2121.8) scale(0.97 1.1)">-5</text><text transform="translate(905.22 2121.8) scale(0.97 1.1)">-4</text><text transform="translate(946.23 2121.8) scale(0.97 1.1)">-3</text><text transform="translate(987.23 2121.8) scale(0.97 1.1)">-2</text><text transform="translate(1028.24 2121.8) scale(0.97 1.1)">-1</text><text transform="translate(1069.25 2121.8) scale(0.97 1.1)">0</text><text transform="translate(1110.26 2121.8) scale(0.97 1.1)">1</text><text transform="translate(1151.27 2121.8) scale(0.97 1.1)">2</text><text transform="translate(1192.28 2121.8) scale(0.97 1.1)">3</text><text transform="translate(1233.28 2121.8) scale(0.97 1.1)">4</text><text transform="translate(1274.29 2121.8) scale(0.97 1.1)">5</text><text transform="translate(1315.3 2121.8) scale(0.97 1.1)">6</text></g>
<text transform="translate(1069.25 1523.7) scale(0.99 1.02)" class="b" text-anchor="middle">h) CFS (May Reg2)</text>
<text transform="translate(1069.25 2171.3) scale(1.02 1)" class="b" text-anchor="middle">Tmax Anom</text>
<text class="b" text-anchor="middle" transform="translate(701.3 1810.1) rotate(-90) scale(1 1.05)">Days</text>
<g class="st"><text transform="translate(1133.8 1610.6) scale(1.02 1.1)">Mean=  0.0</text><text transform="translate(1133.8 1648.2) scale(1.02 1.1)"> Std=  2.0</text><text transform="translate(1133.8 1685.8) scale(1.02 1.1)">Skew=-0.11</text><text transform="translate(1133.8 1723.4) scale(1.02 1.1)">Kurt= 0.05</text><text transform="translate(1133.8 1761) scale(1.02 1.1)">xLow= -3.9</text><text transform="translate(1133.8 1798.6) scale(1.02 1.1)">xMed= -0.1</text><text transform="translate(1133.8 1836.2) scale(1.02 1.1)"> xHi=  3.9</text></g>
<g class="nt" fill="#dd2a0c"><text transform="translate(875.4 1624.5) scale(1 1.06)">Corr=</text><text transform="translate(875.4 1661.75) scale(1 1.06)">0.32</text><text transform="translate(875.4 1699) scale(1 1.06)">RMSE=</text><text transform="translate(875.4 1736.25) scale(1 1.06)">2.41</text></g>
</g>
<g>
<path d="M1483.6 2042.51h9M1984.7 2042.51h9M1483.6 2028.43h9M1984.7 2028.43h9M1483.6 2014.34h9M1984.7 2014.34h9M1483.6 2000.26h9M1984.7 2000.26h9M1483.6 1972.09h9M1984.7 1972.09h9M1483.6 1958h9M1984.7 1958h9M1483.6 1943.91h9M1984.7 1943.91h9M1483.6 1929.83h9M1984.7 1929.83h9M1483.6 1901.66h9M1984.7 1901.66h9M1483.6 1887.57h9M1984.7 1887.57h9M1483.6 1873.49h9M1984.7 1873.49h9M1483.6 1859.4h9M1984.7 1859.4h9M1483.6 1831.23h9M1984.7 1831.23h9M1483.6 1817.14h9M1984.7 1817.14h9M1483.6 1803.06h9M1984.7 1803.06h9M1483.6 1788.97h9M1984.7 1788.97h9M1483.6 1760.8h9M1984.7 1760.8h9M1483.6 1746.71h9M1984.7 1746.71h9M1483.6 1732.63h9M1984.7 1732.63h9M1483.6 1718.54h9M1984.7 1718.54h9M1483.6 1690.37h9M1984.7 1690.37h9M1483.6 1676.29h9M1984.7 1676.29h9M1483.6 1662.2h9M1984.7 1662.2h9M1483.6 1648.11h9M1984.7 1648.11h9M1483.6 1619.94h9M1984.7 1619.94h9M1483.6 1605.86h9M1984.7 1605.86h9M1483.6 1591.77h9M1984.7 1591.77h9M1483.6 1577.69h9M1984.7 1577.69h9" stroke="#c2c2c2" stroke-width="3.2" fill="none"/>
<path d="M1475.6 2056.6h17M1984.7 2056.6h17M1475.6 1986.17h17M1984.7 1986.17h17M1475.6 1915.74h17M1984.7 1915.74h17M1475.6 1845.31h17M1984.7 1845.31h17M1475.6 1774.89h17M1984.7 1774.89h17M1475.6 1704.46h17M1984.7 1704.46h17M1475.6 1634.03h17M1984.7 1634.03h17M1475.6 1563.6h17M1984.7 1563.6h17M1492.6 2056.6v17M1533.61 2056.6v17M1574.62 2056.6v17M1615.62 2056.6v17M1656.63 2056.6v17M1697.64 2056.6v17M1738.65 2056.6v17M1779.66 2056.6v17M1820.67 2056.6v17M1861.67 2056.6v17M1902.68 2056.6v17M1943.69 2056.6v17M1984.7 2056.6v17" stroke="#9a9a9a" stroke-width="3.8" fill="none"/>
<rect x="1492.6" y="1563.6" width="492.1" height="493" fill="none" stroke="#a0a0a0" stroke-width="5.4"/>
<g fill="#000"><rect x="1498.8" y="2047.6" width="28.6" height="9.4"/><rect x="1539.81" y="2033.5" width="28.6" height="23.5"/><rect x="1580.82" y="2033.5" width="28.6" height="23.5"/><rect x="1621.83" y="1978.1" width="28.6" height="78.9"/><rect x="1662.84" y="1961.8" width="28.6" height="95.2"/><rect x="1703.85" y="1935.9" width="28.6" height="121.1"/><rect x="1744.85" y="1894.2" width="28.6" height="162.8"/><rect x="1785.86" y="1951.9" width="28.6" height="105.1"/><rect x="1826.87" y="1996.9" width="28.6" height="60.1"/><rect x="1867.88" y="2012.4" width="28.6" height="44.6"/><rect x="1908.89" y="2015.2" width="28.6" height="41.8"/><rect x="1949.9" y="2037.7" width="28.6" height="19.3"/></g>
<g class="tk" text-anchor="end"><text transform="translate(1452.3 2069) scale(0.97 1.1)">0</text><text transform="translate(1452.3 1998.57) scale(0.97 1.1)">50</text><text transform="translate(1452.3 1928.14) scale(0.97 1.1)">100</text><text transform="translate(1452.3 1857.71) scale(0.97 1.1)">150</text><text transform="translate(1452.3 1787.29) scale(0.97 1.1)">200</text><text transform="translate(1452.3 1716.86) scale(0.97 1.1)">250</text><text transform="translate(1452.3 1646.43) scale(0.97 1.1)">300</text><text transform="translate(1452.3 1576) scale(0.97 1.1)">350</text></g>
<g class="tk" text-anchor="middle"><text transform="translate(1492.6 2121.8) scale(0.97 1.1)">-6</text><text transform="translate(1533.61 2121.8) scale(0.97 1.1)">-5</text><text transform="translate(1574.62 2121.8) scale(0.97 1.1)">-4</text><text transform="translate(1615.62 2121.8) scale(0.97 1.1)">-3</text><text transform="translate(1656.63 2121.8) scale(0.97 1.1)">-2</text><text transform="translate(1697.64 2121.8) scale(0.97 1.1)">-1</text><text transform="translate(1738.65 2121.8) scale(0.97 1.1)">0</text><text transform="translate(1779.66 2121.8) scale(0.97 1.1)">1</text><text transform="translate(1820.67 2121.8) scale(0.97 1.1)">2</text><text transform="translate(1861.67 2121.8) scale(0.97 1.1)">3</text><text transform="translate(1902.68 2121.8) scale(0.97 1.1)">4</text><text transform="translate(1943.69 2121.8) scale(0.97 1.1)">5</text><text transform="translate(1984.7 2121.8) scale(0.97 1.1)">6</text></g>
<text transform="translate(1738.65 1523.7) scale(0.99 1.02)" class="b" text-anchor="middle">i) AdaBoost(MLP) (May Reg2)</text>
<text transform="translate(1738.65 2171.3) scale(1.02 1)" class="b" text-anchor="middle">Tmax Anom</text>
<text class="b" text-anchor="middle" transform="translate(1370.7 1810.1) rotate(-90) scale(1 1.05)">Days</text>
<g class="st"><text transform="translate(1803.2 1610.6) scale(1.02 1.1)">Mean=  0.4</text><text transform="translate(1803.2 1648.2) scale(1.02 1.1)"> Std=  2.4</text><text transform="translate(1803.2 1685.8) scale(1.02 1.1)">Skew= 0.23</text><text transform="translate(1803.2 1723.4) scale(1.02 1.1)">Kurt=-0.03</text><text transform="translate(1803.2 1761) scale(1.02 1.1)">xLow= -4.4</text><text transform="translate(1803.2 1798.6) scale(1.02 1.1)">xMed=  0.3</text><text transform="translate(1803.2 1836.2) scale(1.02 1.1)"> xHi=  5.1</text></g>
<g class="nt" fill="#dd2a0c"><text transform="translate(1661.5 1611.5) scale(1 1.06)">Corr=</text><text transform="translate(1661.5 1648.75) scale(1 1.06)">0.36</text><text transform="translate(1661.5 1686) scale(1 1.06)">RMSE=</text><text transform="translate(1661.5 1723.25) scale(1 1.06)">2.42</text></g>
<g class="nt" fill="#2a38ff"><text transform="translate(1513.3 1618) scale(1 1.06)">Std</text><text transform="translate(1513.3 1655.25) scale(1 1.06)">RELU</text><text transform="translate(1513.3 1692.5) scale(1 1.06)">ADAM</text><text transform="translate(1513.3 1729.75) scale(1 1.06)" textLength="126.5" lengthAdjust="spacing">avg of</text><text transform="translate(1513.3 1767) scale(1 1.06)">nproc=</text><text transform="translate(1513.3 1804.25) scale(1 1.06)">10-20</text></g>
</g>
</svg>
</body>
</html>
